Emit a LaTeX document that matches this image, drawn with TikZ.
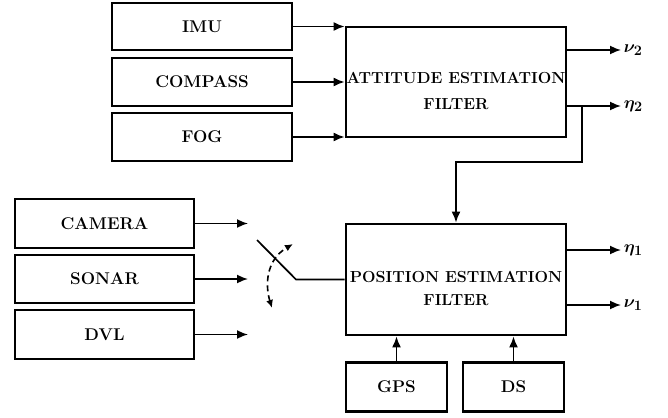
\documentclass[tikz,border=0pt]{standalone}
\usepackage{fontspec}
\usepackage{amsmath}
\usetikzlibrary{arrows.meta}
\begin{document}
\begin{tikzpicture}[x=1pt,y=-1pt,
  box/.style={draw,line width=2.8pt,rectangle,inner sep=0pt,font=\fontsize{17}{20}\selectfont\bfseries,align=center},
  fbox/.style={box,font=\fontsize{16}{20}\selectfont\bfseries},
  arr/.style={line width=1.7pt,-{Latex[length=11pt,width=9pt]}},
  ln/.style={line width=1.7pt},
  lab/.style={anchor=west,inner sep=2pt,font=\fontsize{19}{22}\selectfont\boldmath}]
\useasboundingbox (0,0) rectangle (668,417);
% top sensors
\node[box,minimum width=180pt,minimum height=47pt] (imu) at (202,26.5) {IMU};
\node[box,minimum width=180pt,minimum height=48pt] (comp) at (202,82) {COMPASS};
\node[box,minimum width=180pt,minimum height=48pt] (fog) at (202,137) {FOG};
\node[fbox,minimum width=220pt,minimum height=110pt] (att) at (456,82) {};
\node[fbox,draw=none] (attt) at (456,91) {ATTITUDE ESTIMATION\\[6pt]FILTER};
% bottom sensors
\node[box,minimum width=179pt,minimum height=49pt] (cam) at (104.5,223.5) {CAMERA};
\node[box,minimum width=179pt,minimum height=48pt] (son) at (104.5,279) {SONAR};
\node[box,minimum width=179pt,minimum height=49pt] (dvl) at (104.5,334.5) {DVL};
\node[fbox,minimum width=220pt,minimum height=111pt] (pos) at (456,279.5) {};
\node[fbox,draw=none] (post) at (456,288) {POSITION ESTIMATION\\[3pt]FILTER};
\node[box,minimum width=101pt,minimum height=49pt] (gps) at (396.5,387) {GPS};
\node[box,minimum width=101pt,minimum height=49pt] (ds) at (513.5,387) {DS};
% inputs to attitude filter
\draw[arr] (imu.east) -- (imu.east -| att.west);
\draw[arr] (comp.east) -- (att.west);
\draw[arr] (fog.east) -- (fog.east -| att.west);
% outputs of attitude filter
\coordinate (nu2s) at (566,50);
\coordinate (nu2e) at (621,50);
\coordinate (eta2s) at (566,106);
\coordinate (eta2e) at (621,106);
\coordinate (br) at (582,106);
\coordinate (j) at (456,162);
\draw[arr] (nu2s) -- (nu2e) node[lab] (lnu2) {$\nu_2$};
\draw[arr] (eta2s) -- (eta2e) node[lab] (leta2) {$\eta_2$};
\draw[arr] (br) |- (j) -- (pos.north);
% inputs to switch
\coordinate (c1) at (248,223.5);
\coordinate (c2) at (248,279);
\coordinate (c3) at (248,334.5);
\draw[arr] (cam.east) -- (c1);
\draw[arr] (son.east) -- (c2);
\draw[arr] (dvl.east) -- (c3);
% switch
\coordinate (sw1) at (257,240);
\coordinate (sw2) at (296,279.5);
\draw[ln] (sw1) -- (sw2) -- (pos.west);
\coordinate (d1) at (272,308);
\coordinate (d2) at (293,244);
\draw[line width=1.6pt,dash pattern=on 6pt off 4pt,{Latex[length=8pt,width=7pt]}-{Latex[length=8pt,width=7pt]}] (d1) .. controls (265,285) and (266,260) .. (d2);
% outputs of position filter
\coordinate (eta1s) at (566,250);
\coordinate (eta1e) at (621,250);
\coordinate (nu1s) at (566,305);
\coordinate (nu1e) at (621,305);
\draw[arr] (eta1s) -- (eta1e) node[lab] (leta1) {$\eta_1$};
\draw[arr] (nu1s) -- (nu1e) node[lab] (lnu1) {$\nu_1$};
% GPS, DS
\draw[arr] (gps.north) -- (gps.north |- pos.south);
\draw[arr] (ds.north) -- (ds.north |- pos.south);
\end{tikzpicture}
\end{document}
